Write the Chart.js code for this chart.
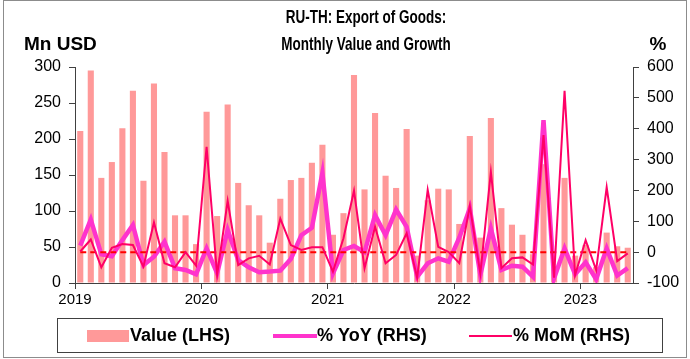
<!DOCTYPE html>
<html>
<head>
<meta charset="utf-8">
<script src="https://cdn.jsdelivr.net/npm/chart.js@4.4.1/dist/chart.umd.min.js"></script>
<style>
    html, body { margin: 0; padding: 0; background: #fff; }
    #wrap { position: relative; width: 690px; height: 359px; }
</style>
</head>
<body>
<div id="wrap"><canvas id="chartExport" width="690" height="359"></canvas></div>
<script>
// Monthly data, Jan 2019 .. May 2023
var firstYear = 2019;
var arrValue = [
    211, 295, 146, 168, 215, 267, 142, 277, 182, 94, 94, 54,
    238, 93, 248, 139, 108, 94, 56, 117, 143, 146, 167, 192,
    67, 97, 289, 130, 236, 149, 132, 214, 38, 115, 131, 130,
    82, 204, 63, 229, 104, 81, 67, 40, 165, 23, 146, 38,
    53, 22, 70, 51, 49
];
var arrYoY = [
    21, 106, -7, -13, 39, 88, -42, -15, 34, -52, -58, -72,
    12, -69, 72, -26, -49, -65, -63, -60, -22, 55, 79, 257,
    -69, 7, 20, 0, 120, 55, 138, 82, -80, -36, -20, -31,
    47, 142, -74, 77, -58, -44, -47, -80, 428, -85, 12, -72,
    -33, -88, 12, -76, -52
];
var arrMoM = [
    2, 41, -49, 14, 26, 23, -47, 96, -36, -49, 0, -44,
    341, -74, 166, -42, -20, -12, -40, 109, 23, 7, 16, 16,
    -63, 45, 199, -52, 82, -36, -9, 61, -83, 202, 17, 0,
    -36, 150, -69, 260, -52, -20, -17, -40, 379, -83, 523, -74,
    39, -58, 210, -29, -4
];
var legendNames = ["Value (LHS)", "% YoY (RHS)", "% MoM (RHS)"];

var colBar = "#FF9999";
var colYoY = "#FF33CC";
var colMoM = "#FF0066";
var fontFamily = "'Liberation Sans', Arial, sans-serif";

// month labels like 2019-01
var arrLabel = [];
for (var i = 0; i < arrValue.length; i++) {
    var yr = firstYear + Math.floor(i / 12);
    var mo = (i % 12) + 1;
    arrLabel.push(yr + "-" + (mo < 10 ? "0" + mo : mo));
}
var arrZero = arrValue.map(function () { return 0; });

// narrow bold title text (squeezed horizontally)
function drawNarrow(ctx, text, x, y) {
    ctx.save();
    ctx.translate(x, y);
    ctx.scale(0.71, 1);
    ctx.fillText(text, 0, 0);
    ctx.restore();
}

// titles, outer frame and the boxed legend
var decorPlugin = {
    id: 'decor',
    afterDraw: function (chart) {
        var ctx = chart.ctx;
        ctx.save();

        ctx.strokeStyle = "#8c8c8c";
        ctx.lineWidth = 1;
        ctx.strokeRect(3.5, 0.5, 683, 357);

        ctx.fillStyle = "#000";
        ctx.textBaseline = "middle";
        ctx.font = "bold 19px " + fontFamily;
        ctx.textAlign = "center";
        drawNarrow(ctx, "RU-TH: Export of Goods:", 366, 18);
        drawNarrow(ctx, "Monthly Value and Growth", 366, 45);
        ctx.textAlign = "left";
        ctx.fillText("Mn USD", 24, 45);
        ctx.textAlign = "center";
        ctx.fillText("%", 658, 45);

        // legend
        ctx.strokeStyle = "#404040";
        ctx.strokeRect(57.5, 318.5, 605, 34);
        var ly = 336;
        ctx.fillStyle = colBar;
        ctx.fillRect(87, ly - 6, 42, 12);
        ctx.lineCap = "butt";
        ctx.strokeStyle = colYoY;
        ctx.lineWidth = 4;
        ctx.beginPath(); ctx.moveTo(273, ly); ctx.lineTo(317, ly); ctx.stroke();
        ctx.strokeStyle = colMoM;
        ctx.lineWidth = 2;
        ctx.beginPath(); ctx.moveTo(469, ly); ctx.lineTo(512, ly); ctx.stroke();

        ctx.fillStyle = "#000";
        ctx.textAlign = "left";
        ctx.font = "bold 18px " + fontFamily;
        ctx.fillText(legendNames[0], 130, ly);
        ctx.fillText(legendNames[1], 317, ly);
        ctx.fillText(legendNames[2], 513, ly);

        ctx.restore();
    }
};

var chart = new Chart(document.getElementById('chartExport'), {
    type: 'bar',
    data: {
        labels: arrLabel,
        datasets: [{
            type: 'bar',
            label: legendNames[0],
            data: arrValue,
            backgroundColor: colBar,
            yAxisID: 'y',
            categoryPercentage: 1,
            barPercentage: 0.58,
            order: 4
        }, {
            type: 'line',
            label: legendNames[1],
            data: arrYoY,
            borderColor: colYoY,
            borderWidth: 4.5,
            pointRadius: 0,
            tension: 0,
            yAxisID: 'y1',
            order: 3
        }, {
            type: 'line',
            label: 'zero',
            data: arrZero,
            borderColor: "#FF0000",
            borderWidth: 2,
            borderDash: [6, 4],
            pointRadius: 0,
            yAxisID: 'y1',
            order: 2
        }, {
            type: 'line',
            label: legendNames[2],
            data: arrMoM,
            borderColor: colMoM,
            borderWidth: 2,
            pointRadius: 0,
            tension: 0,
            yAxisID: 'y1',
            order: 1
        }]
    },
    options: {
        responsive: false,
        animation: false,
        layout: { padding: { top: 67, left: 0, right: 0, bottom: 0 } },
        plugins: {
            legend: { display: false },
            tooltip: { enabled: false }
        },
        scales: {
            x: {
                offset: true,
                grid: {
                    offset: true,
                    drawOnChartArea: false,
                    tickLength: 6,
                    color: function (c) { return c.index % 12 === 0 ? "#404040" : "rgba(0,0,0,0)"; }
                },
                border: { color: "#404040", width: 1 },
                ticks: {
                    autoSkip: false,
                    maxRotation: 0,
                    padding: 2,
                    labelOffset: -5.25,
                    color: "#000",
                    font: { family: fontFamily, size: 15 },
                    callback: function (val, index) {
                        return index % 12 === 0 ? String(firstYear + index / 12) : "";
                    }
                },
                afterFit: function (scale) { scale.height = 76; }
            },
            y: {
                position: 'left',
                min: 0,
                max: 300,
                grid: { drawOnChartArea: false, tickLength: 6, color: "#404040" },
                border: { color: "#404040", width: 1 },
                ticks: {
                    stepSize: 50,
                    padding: 8,
                    color: "#000",
                    font: { family: fontFamily, size: 16 }
                },
                afterFit: function (scale) { scale.width = 75; }
            },
            y1: {
                position: 'right',
                min: -100,
                max: 600,
                grid: { drawOnChartArea: false, tickLength: 6, color: "#404040" },
                border: { color: "#404040", width: 1 },
                ticks: {
                    stepSize: 100,
                    padding: 8,
                    color: "#000",
                    font: { family: fontFamily, size: 16 }
                },
                afterFit: function (scale) { scale.width = 57; }
            }
        }
    },
    plugins: [decorPlugin]
});
</script>
</body>
</html>
